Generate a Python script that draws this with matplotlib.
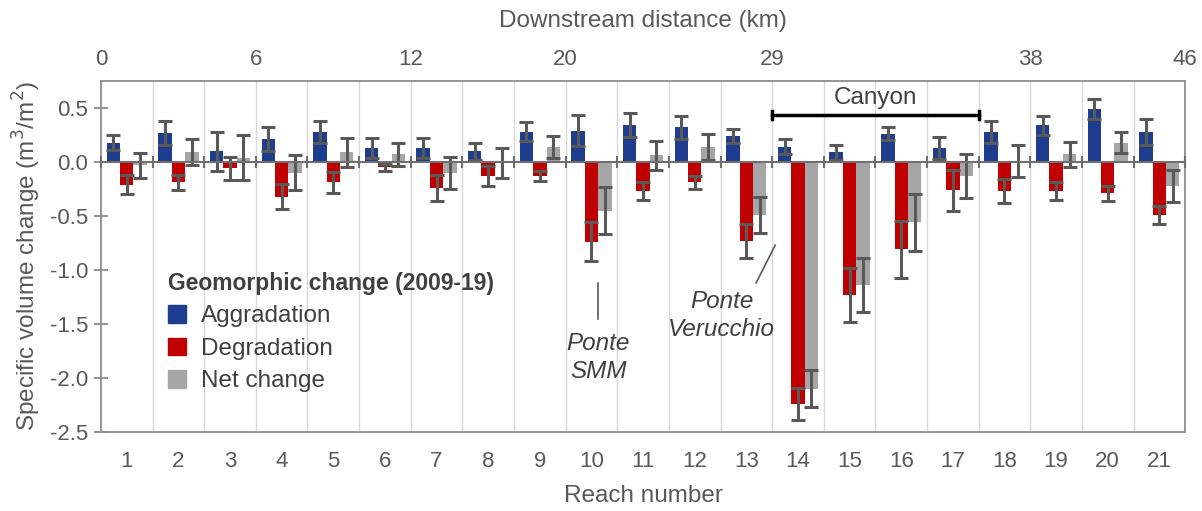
import numpy as np
from matplotlib import pyplot as plt
from matplotlib.patches import Patch

plt.rcParams['font.family'] = ['Liberation Sans', 'DejaVu Sans']

# Specific volume change per reach (m3/m2)
reaches = list(range(1, 22))
aggradation = [0.18, 0.27, 0.10, 0.21, 0.28, 0.13, 0.13, 0.10, 0.28, 0.29, 0.34,
               0.32, 0.24, 0.14, 0.09, 0.26, 0.13, 0.28, 0.34, 0.49, 0.28]
aggradation_err = [0.07, 0.11, 0.18, 0.11, 0.10, 0.095, 0.09, 0.08, 0.09, 0.145, 0.11,
                   0.105, 0.065, 0.07, 0.07, 0.06, 0.10, 0.10, 0.09, 0.09, 0.12]
degradation = [-0.21, -0.19, -0.06, -0.32, -0.19, -0.05, -0.24, -0.13, -0.13, -0.74, -0.27,
               -0.19, -0.73, -2.24, -1.23, -0.81, -0.26, -0.27, -0.27, -0.29, -0.49]
degradation_err = [0.09, 0.07, 0.11, 0.12, 0.095, 0.03, 0.12, 0.095, 0.05, 0.18, 0.085,
                   0.06, 0.155, 0.15, 0.25, 0.26, 0.19, 0.11, 0.08, 0.07, 0.085]
net_change = [-0.03, 0.09, 0.04, -0.10, 0.09, 0.07, -0.10, -0.01, 0.14, -0.45, 0.06,
              0.14, -0.49, -2.10, -1.14, -0.56, -0.13, 0.01, 0.07, 0.18, -0.22]
net_err = [0.115, 0.12, 0.21, 0.16, 0.135, 0.11, 0.15, 0.135, 0.10, 0.22, 0.135,
           0.12, 0.17, 0.17, 0.25, 0.26, 0.20, 0.147, 0.115, 0.10, 0.15]

# Downstream distance labels at reach boundaries
distance_km = [0, 6, 12, 20, 29, 38, 46]
distance_after_reach = [0, 3, 6, 9, 13, 18, 21]

canyon_reaches = (14, 17)

BLUE = '#1f3d8f'
RED = '#c00000'
GRAY = '#a6a6a6'
TEXT = '#595959'
ERR = '#595959'

if __name__ == "__main__":
    x = np.array(reaches, dtype=float)
    width = 0.26

    fig = plt.figure(figsize=(12.02, 5.11), dpi=100)
    ax = fig.add_axes([0.084, 0.1546, 0.902, 0.687])

    err_kw = dict(ecolor=ERR, elinewidth=2.2, capsize=5, capthick=2.2)
    ax.bar(x - width, aggradation, width, yerr=aggradation_err, color=BLUE, zorder=3, error_kw=err_kw)
    ax.bar(x, degradation, width, yerr=degradation_err, color=RED, zorder=3, error_kw=err_kw)
    ax.bar(x + width, net_change, width, yerr=net_err, color=GRAY, zorder=3, error_kw=err_kw)

    boundaries = np.arange(0.5, len(reaches) + 1, 1.0)
    for b in boundaries[1:-1]:
        ax.axvline(b, color='#d9d9d9', lw=1, zorder=1)

    # zero line with category tick marks
    ax.axhline(0, color='#6f6f6f', lw=1.5, zorder=4)
    ax.plot(boundaries, np.zeros_like(boundaries), ls='none', marker='|',
            ms=9, mew=1.5, color='#6f6f6f', zorder=4, clip_on=False)

    ax.set_xlim(0.5, len(reaches) + 0.5)
    ax.set_ylim(-2.5, 0.75)
    ax.set_yticks(np.arange(-2.5, 0.51, 0.5))
    ax.set_yticklabels([f'{v:.1f}' for v in np.arange(-2.5, 0.51, 0.5)])
    ax.set_xticks(x)
    ax.set_xticklabels([str(r) for r in reaches])
    ax.tick_params(axis='y', direction='inout', length=10, width=1.2, color='#808080',
                   labelsize=16, labelcolor=TEXT, pad=4)
    ax.tick_params(axis='x', length=0, labelsize=16, labelcolor=TEXT, pad=14)

    for s in ax.spines.values():
        s.set_color('#8c8c8c')
        s.set_linewidth(1.3)

    ax.set_xlabel('Reach number', fontsize=17.5, color=TEXT, labelpad=9)
    ax.set_ylabel('Specific volume change (m$^3$/m$^2$)', fontsize=17.5, color=TEXT, labelpad=5)

    top = ax.secondary_xaxis('top')
    top.set_xticks([d + 0.5 for d in distance_after_reach])
    top.set_xticklabels([str(d) for d in distance_km])
    top.tick_params(length=0, labelsize=16, labelcolor=TEXT, pad=8)
    top.spines['top'].set_visible(False)
    top.set_xlabel('Downstream distance (km)', fontsize=17.5, color=TEXT, labelpad=16)

    # Canyon bracket
    c0, c1 = canyon_reaches[0] - 0.5, canyon_reaches[1] + 0.5
    ax.plot([c0, c1], [0.435, 0.435], color='black', lw=2.5, zorder=5)
    ax.plot([c0, c0], [0.40, 0.47], color='black', lw=2.5, zorder=5)
    ax.plot([c1, c1], [0.40, 0.47], color='black', lw=2.5, zorder=5)
    ax.text((c0 + c1) / 2, 0.59, 'Canyon', ha='center', va='center', fontsize=17.5, color='#404040')

    # Bridge annotations
    ax.plot([10.13, 10.13], [-1.12, -1.45], color='#595959', lw=1.2)
    ax.text(10.13, -1.81, 'Ponte\nSMM', ha='center', va='center', fontsize=17.5,
            style='italic', color='#404040', linespacing=1.3)
    ax.plot([13.56, 13.19], [-0.77, -1.12], color='#595959', lw=1.2)
    ax.text(12.52, -1.42, 'Ponte\nVerucchio', ha='center', va='center', fontsize=17.5,
            style='italic', color='#404040', linespacing=1.3)

    handles = [Patch(color=BLUE), Patch(color=RED), Patch(color=GRAY)]
    leg = ax.legend(handles, ['Aggradation', 'Degradation', 'Net change'],
                    title='Geomorphic change (2009-19)', loc='upper left',
                    bbox_to_anchor=(0.046, 0.505), frameon=False, fontsize=17.5,
                    handlelength=0.75, handleheight=0.75, handletextpad=0.6,
                    labelspacing=0.42, borderpad=0.2, alignment='left')
    leg.get_title().set_fontweight('bold')
    leg.get_title().set_fontsize(16.5)
    leg.get_title().set_color('#404040')
    for t in leg.get_texts():
        t.set_color('#404040')

    fig.savefig('out.png', dpi=100)
